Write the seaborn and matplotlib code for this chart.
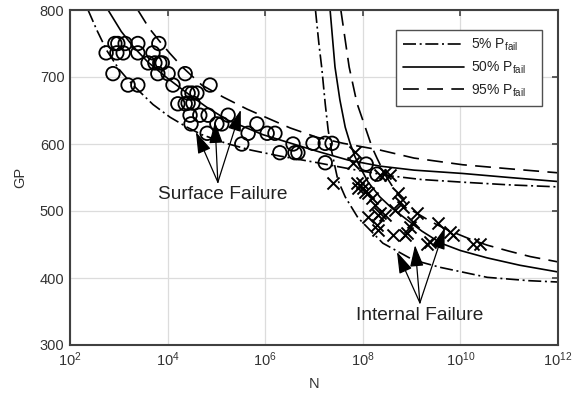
import numpy as np
import pandas as pd
import matplotlib
matplotlib.use("Agg")
import matplotlib.pyplot as plt
import seaborn as sns

# ---- fatigue data: log10(N) and GP ----
surf_logN = [2.74, 2.92, 2.98, 3.13, 3.09, 2.96, 3.39, 3.39, 2.88, 3.19, 3.39, 3.70,
             3.82, 3.60, 3.74, 3.84, 3.89, 3.80, 4.01, 4.11, 4.36, 4.42, 4.42, 4.52,
             4.60, 4.50, 4.21, 4.36, 4.46, 4.66, 4.83, 4.48, 4.87, 4.81, 5.01, 5.11,
             5.24, 5.52, 5.65, 5.83, 6.04, 6.20, 6.30, 6.57, 6.61, 6.67, 6.98, 7.23,
             7.37, 7.23, 8.07, 8.29]
surf_gp = [736, 750, 750, 750, 736, 736, 750, 736, 705, 688, 688, 736,
           750, 721, 721, 721, 721, 705, 705, 688, 705, 676, 661, 661,
           676, 676, 660, 660, 643, 643, 643, 630, 688, 616, 630, 630,
           643, 600, 616, 630, 616, 616, 587, 600, 587, 587, 601, 601,
           601, 572, 570, 555]

int_logN = [7.39, 7.84, 7.80, 8.35, 8.56, 8.45, 7.88, 7.98, 8.00, 7.90, 8.04, 8.11,
            8.19, 8.72, 8.76, 8.25, 8.35, 8.66, 8.11, 9.11, 9.03, 8.31, 8.62, 8.86,
            9.54, 9.79, 9.85, 9.32, 10.26, 10.40, 8.45, 8.31, 8.29, 8.82, 8.97, 8.90,
            9.38]
int_gp = [542, 588, 572, 554, 554, 557, 542, 542, 534, 534, 528, 527,
          519, 527, 513, 509, 497, 501, 491, 497, 484, 472, 464, 464,
          482, 469, 464, 451, 451, 451, 494, 494, 479, 506, 476, 467,
          454]

# ---- probability curves (surface branch) ----
s05_logN = [2.37, 2.55, 2.75, 3.0, 3.2, 3.43, 3.7, 4.05, 4.4, 4.7, 5.2, 5.7, 6.3,
            7.0, 7.8, 8.5, 9.2, 10.05, 11.0, 12.0]
s05_gp = [800, 770, 740, 712, 695, 678, 659, 640, 625, 614, 601, 591, 582,
          573, 562, 553, 547, 543, 539, 536]
s50_logN = [2.78, 3.05, 3.3, 3.6, 4.0, 4.4, 4.8, 5.22, 5.95, 6.71, 7.12, 7.7, 8.35,
            9.05, 10.05, 11.0, 12.0]
s50_gp = [800, 768, 745, 722, 698, 676, 655, 636, 614, 597, 588, 576, 567,
          561, 556, 550, 544]
s95_logN = [3.39, 3.62, 3.84, 4.05, 4.3, 4.7, 5.14, 5.63, 6.1, 6.51, 7.06, 7.6, 8.35,
            9.05, 10.05, 11.0, 12.0]
s95_gp = [800, 773, 753, 735, 715, 688, 670, 652, 637, 624, 610, 601, 591,
          579, 569, 563, 557]

# ---- probability curves (internal branch) ----
i05_logN = [7.03, 7.1, 7.16, 7.23, 7.29, 7.36, 7.43, 7.49, 7.64, 7.90, 8.41, 9.03,
            9.58, 10.55, 11.4, 12.0]
i05_gp = [800, 750, 713, 660, 621, 590, 566, 546, 521, 490, 452, 427,
          416, 401, 396, 394]
i50_logN = [7.33, 7.43, 7.53, 7.64, 7.74, 7.84, 7.94, 8.11, 8.35, 8.60, 9.21, 9.6,
            10.0, 10.55, 11.22, 12.0]
i50_gp = [800, 715, 666, 625, 601, 581, 566, 543, 521, 504, 470, 452,
          441, 430, 419, 409]
i95_logN = [7.55, 7.72, 7.88, 8.05, 8.19, 8.29, 8.45, 8.7, 9.03, 9.4, 9.73, 10.2,
            10.55, 11.0, 11.43, 12.0]
i95_gp = [800, 715, 661, 625, 595, 579, 555, 526, 500, 484, 472, 458,
          449, 440, 432, 424]

# ---- annotation arrows (log10 N, GP) ----
surf_tail = (5.03, 543)
surf_tips = [(4.58, 618), (4.97, 633), (5.50, 651)]
int_tail = (9.17, 363)
int_tips = [(8.70, 439), (9.07, 449), (9.68, 475)]

legend_labels = [r"5% P$_{\mathrm{fail}}$   ", r"50% P$_{\mathrm{fail}}$   ", r"95% P$_{\mathrm{fail}}$   "]

sns.set_style("white")
plt.rcParams["font.family"] = ["Liberation Sans", "DejaVu Sans"]
plt.rcParams["mathtext.fontset"] = "custom"
plt.rcParams["mathtext.rm"] = "Liberation Sans"
plt.rcParams["mathtext.it"] = "Liberation Sans:italic"

fig = plt.figure(figsize=(5.82, 3.96), dpi=100)
ax = fig.add_axes([70 / 582, 1 - 345 / 396, 488 / 582, 335 / 396])

styles = {
    "5": (0, (7.8, 2.2, 1.2, 2.2)),
    "50": "-",
    "95": (0, (9.5, 5.0)),
}

curves = [
    ("5", s05_logN, s05_gp, True), ("50", s50_logN, s50_gp, True), ("95", s95_logN, s95_gp, True),
    ("5", i05_logN, i05_gp, False), ("50", i50_logN, i50_gp, False), ("95", i95_logN, i95_gp, False),
]
handles = {}
for key, lx, gy, first in curves:
    df = pd.DataFrame({"N": 10.0 ** np.asarray(lx), "GP": gy})
    sns.lineplot(data=df, x="N", y="GP", ax=ax, color="black", lw=1.2,
                 sort=False, estimator=None, legend=False)
    ln = ax.lines[-1]
    ln.set_linestyle(styles[key])
    if first:
        handles[key] = ln

df_s = pd.DataFrame({"N": 10.0 ** np.asarray(surf_logN), "GP": surf_gp})
df_i = pd.DataFrame({"N": 10.0 ** np.asarray(int_logN), "GP": int_gp})
sns.scatterplot(data=df_s, x="N", y="GP", ax=ax, marker="o", s=95,
                facecolors="none", edgecolor="black", linewidth=1.3, legend=False)
sns.scatterplot(data=df_i, x="N", y="GP", ax=ax, marker="x", s=75,
                color="black", linewidth=1.4, legend=False)

ax.set_xscale("log")
ax.set_xlim(1e2, 1e12)
ax.set_ylim(300, 800)
ax.set_xticks([10.0 ** k for k in range(2, 13, 2)])
ax.set_yticks(range(300, 801, 100))
ax.minorticks_off()
ax.grid(True, color="#dcdcdc", lw=0.9)
ax.set_axisbelow(True)
for sp in ax.spines.values():
    sp.set_color("#404040")
    sp.set_linewidth(1.5)
ax.tick_params(direction="in", length=4, width=1.2, top=True, right=True,
               colors="#404040", labelcolor="#333333", labelsize=10.5, pad=4)
ax.set_xlabel("N", fontsize=10.5, color="#333333", labelpad=6)
ax.set_ylabel("GP", fontsize=10.5, color="#333333", labelpad=9)

arrow_kw = dict(arrowstyle="-|>,head_length=1.1,head_width=0.35", color="black",
                lw=0.9, shrinkA=0, shrinkB=0, mutation_scale=12)
for tip in surf_tips:
    ax.annotate("", xy=(10 ** tip[0], tip[1]), xytext=(10 ** surf_tail[0], surf_tail[1]),
                arrowprops=arrow_kw)
for tip in int_tips:
    ax.annotate("", xy=(10 ** tip[0], tip[1]), xytext=(10 ** int_tail[0], int_tail[1]),
                arrowprops=arrow_kw)
ax.text(10 ** 5.12, 538, "Surface Failure", ha="center", va="top", fontsize=13.8, color="#222222")
ax.text(10 ** 9.17, 356, "Internal Failure", ha="center", va="top", fontsize=13.8, color="#222222")

leg = ax.legend([handles["5"], handles["50"], handles["95"]], legend_labels,
                loc="upper right", bbox_to_anchor=(0.9665, 0.94), frameon=True,
                fancybox=False, framealpha=1, edgecolor="#505050", fontsize=10,
                handlelength=4.4, handletextpad=0.5, borderpad=0.5, labelspacing=0.45,
                borderaxespad=0)
leg.get_frame().set_linewidth(1.0)
for t in leg.get_texts():
    t.set_color("#222222")

fig.savefig("out.png", dpi=100)
